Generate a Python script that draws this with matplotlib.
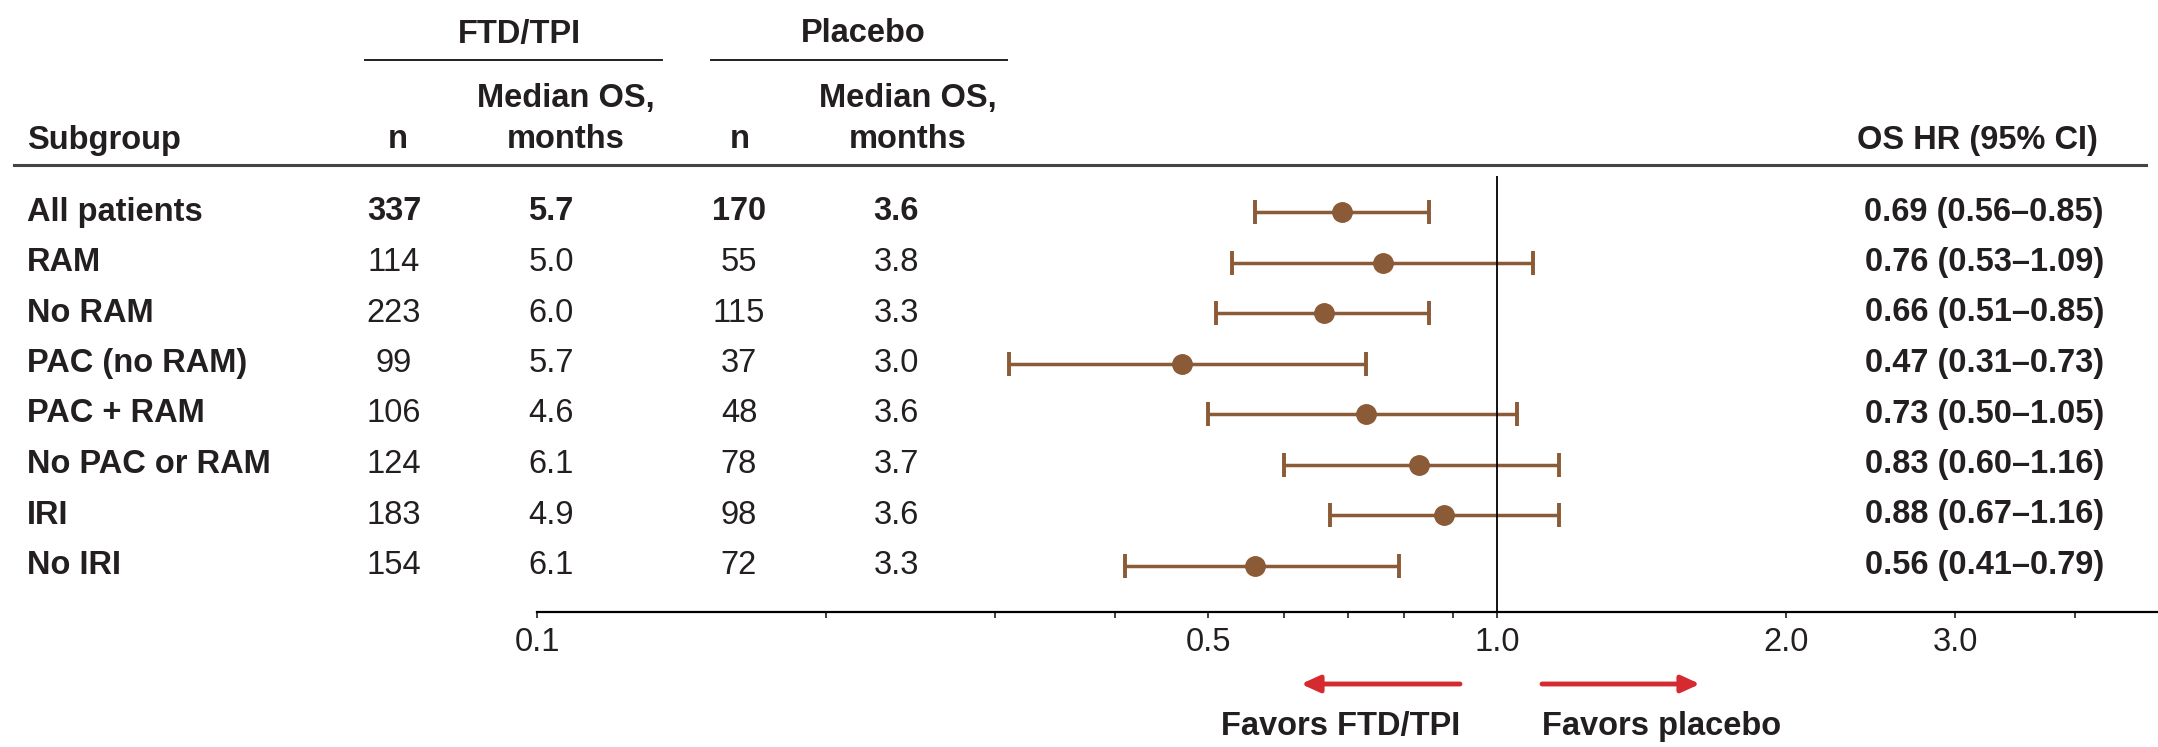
import numpy as np
import matplotlib
matplotlib.use('Agg')
import matplotlib.pyplot as plt
import matplotlib.transforms as mtransforms
from matplotlib.ticker import NullFormatter

# datos del forest plot
subgrupos = ['All patients', 'RAM', 'No RAM', 'PAC (no RAM)', 'PAC + RAM',
             'No PAC or RAM', 'IRI', 'No IRI']
ftd_n = [337, 114, 223, 99, 106, 124, 183, 154]
ftd_os = [5.7, 5.0, 6.0, 5.7, 4.6, 6.1, 4.9, 6.1]
pbo_n = [170, 55, 115, 37, 48, 78, 98, 72]
pbo_os = [3.6, 3.8, 3.3, 3.0, 3.6, 3.7, 3.6, 3.3]
hr = np.array([0.69, 0.76, 0.66, 0.47, 0.73, 0.83, 0.88, 0.56])
hr_lo = np.array([0.56, 0.53, 0.51, 0.31, 0.50, 0.60, 0.67, 0.41])
hr_hi = np.array([0.85, 1.09, 0.85, 0.73, 1.05, 1.16, 1.16, 0.79])

ticks_mayores = [0.1, 0.5, 1.0, 2.0, 3.0]
ticks_etiquetas = ['0.1', '0.5', '1.0', '2.0', '3.0']
ticks_menores = [0.2, 0.3, 0.4, 0.6, 0.7, 0.8, 0.9, 4.0]

plt.rcParams['font.family'] = ['Liberation Sans', 'DejaVu Sans']
fs = 23.5
txt_col = '#231f20'
marron = '#8b5a36'
rojo = '#d42a30'

W, H = 2158, 747
fig = plt.figure(figsize=(W / 100, H / 100), dpi=100)

# ejes del forest (escala log)
ax_top, ax_bot = 176, 612
ax = fig.add_axes([537 / W, 1 - ax_bot / H, 1 - 537 / W, (ax_bot - ax_top) / H])
filas = np.arange(len(subgrupos))
ax.set_xscale('log')
ax.set_xlim(0.1, 10 ** ((W - 537) / 960 - 1))
ax.set_ylim(7 + (ax_bot - 565.5) / 50.5, -(212 - ax_top) / 50.5)
ax.errorbar(hr, filas, xerr=[hr - hr_lo, hr_hi - hr], fmt='o', color=marron,
            ms=14, capsize=8.5, capthick=2.8, elinewidth=2.5)
ax.axvline(1.0, color='black', lw=1.3)
for s in ['top', 'right', 'left']:
    ax.spines[s].set_visible(False)
ax.spines['bottom'].set_linewidth(1.6)
ax.set_yticks([])
ax.set_xticks(ticks_mayores)
ax.set_xticklabels(ticks_etiquetas)
ax.set_xticks(ticks_menores, minor=True)
ax.xaxis.set_minor_formatter(NullFormatter())
ax.tick_params(axis='x', which='both', length=4.5, width=1.2, direction='out',
               labelsize=fs, pad=6, colors=txt_col)

# capa de texto en pixeles
tx = fig.add_axes([0, 0, 1, 1])
tx.set_xlim(0, W)
tx.set_ylim(H, 0)
tx.axis('off')
tr = mtransforms.blended_transform_factory(tx.transData, ax.transData)

bold = dict(fontsize=fs, fontweight='bold', color=txt_col, va='center')
reg = dict(fontsize=fs, color=txt_col, va='center')

# encabezados
tx.text(519, 34, 'FTD/TPI', ha='center', **bold)
tx.text(863, 34, 'Placebo', ha='center', **bold)
tx.plot([365, 662], [60, 60], color=txt_col, lw=1.4)
tx.plot([711, 1007], [60, 60], color=txt_col, lw=1.4)
tx.text(566, 98, 'Median OS,', ha='center', **bold)
tx.text(566, 140, 'months', ha='center', **bold)
tx.text(908, 98, 'Median OS,', ha='center', **bold)
tx.text(908, 140, 'months', ha='center', **bold)
tx.text(27, 140, 'Subgroup', ha='left', **bold)
tx.text(398, 140, 'n', ha='center', **bold)
tx.text(740, 140, 'n', ha='center', **bold)
tx.text(2098, 140, 'OS HR (95% CI)', ha='right', **bold)
tx.plot([14, 2146], [165, 165], color='#444444', lw=2.2)

# filas de la tabla
for i in filas:
    estilo = bold if i == 0 else reg
    tx.text(27, i, subgrupos[i], ha='left', transform=tr, **bold)
    tx.text(394, i, str(ftd_n[i]), ha='center', transform=tr, **estilo)
    tx.text(551, i, f'{ftd_os[i]:.1f}', ha='center', transform=tr, **estilo)
    tx.text(739, i, str(pbo_n[i]), ha='center', transform=tr, **estilo)
    tx.text(896, i, f'{pbo_os[i]:.1f}', ha='center', transform=tr, **estilo)
    tx.text(2104, i, f'{hr[i]:.2f} ({hr_lo[i]:.2f}\u2013{hr_hi[i]:.2f})',
            ha='right', transform=tr, **bold)

# flechas
flecha = dict(arrowstyle='-|>,head_length=0.55,head_width=0.25', color=rojo,
              lw=3.5, shrinkA=0, shrinkB=0, mutation_scale=20)
tx.annotate('', xy=(1301, 684), xytext=(1460, 684), arrowprops=flecha)
tx.annotate('', xy=(1700, 684), xytext=(1542, 684), arrowprops=flecha)
tx.text(1460, 727, 'Favors FTD/TPI', ha='right', **bold)
tx.text(1542, 727, 'Favors placebo', ha='left', **bold)

fig.savefig('out.png', dpi=100)
